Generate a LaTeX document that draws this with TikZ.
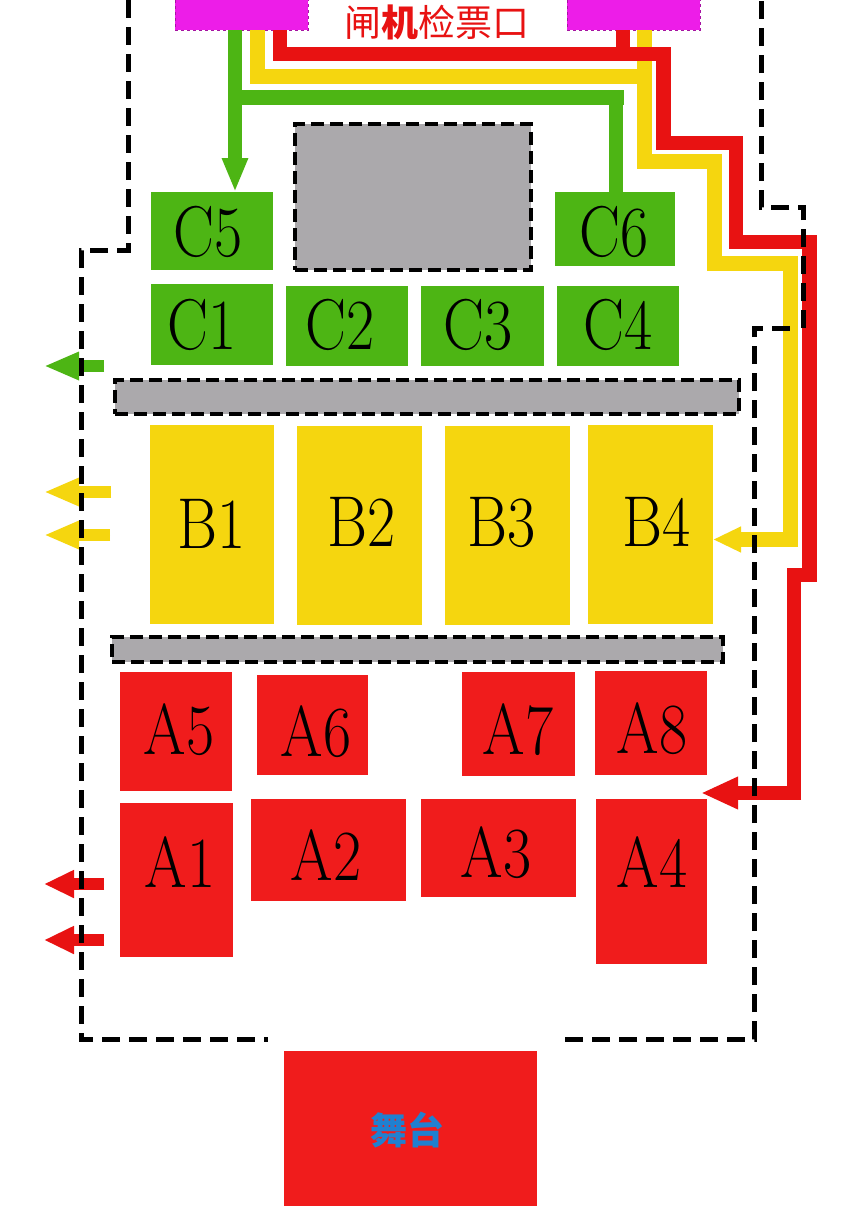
\documentclass[tikz,border=0pt]{standalone}
\usepackage{fontspec}
\usetikzlibrary{arrows.meta}
\newfontfamily\cjkfont{Noto Sans CJK SC}
\definecolor{zgreen}{HTML}{4DB514}
\definecolor{zyellow}{HTML}{F5D60F}
\definecolor{zred}{HTML}{F01C1C}
\definecolor{lred}{HTML}{E81212}
\definecolor{zgray}{HTML}{ABA9AC}
\definecolor{zmag}{HTML}{ED1DE8}
\definecolor{zblue}{HTML}{2080D0}
\tikzset{
  zone/.style={inner sep=0pt,outer sep=0pt,draw=none},
  zgreenbox/.style={zone,fill=zgreen},
  zyellowbox/.style={zone,fill=zyellow},
  zredbox/.style={zone,fill=zred},
  graybox/.style={zone,fill=zgray,draw=black,line width=4pt,dash pattern=on 13pt off 6pt},
  gatebox/.style={zone,fill=zmag,draw=zmag!70!black,line width=0.5pt,dash pattern=on 3pt off 3pt},
  seatlabel/.style={inner sep=0pt,font=\fontsize{72}{72}\selectfont,text=black},
  outline/.style={draw=black,line width=5pt,dash pattern=on 18pt off 9pt,line join=miter},
  greenpipe/.style={draw=zgreen,line width=14pt,line join=miter},
  yellowpipe/.style={draw=zyellow,line width=15pt,line join=miter},
  redpipe/.style={draw=lred,line width=14.5pt,line join=miter},
  exitarrow/.style={line width=12pt,-{Triangle[width=26pt,length=35pt]}}
}
\newcommand{\zonebox}[6]{%
  \node[#6,minimum width=#4pt-#2pt,minimum height=#5pt-#3pt] (#1) at ({(#2+#4)/2},{(#3+#5)/2}) {};}
\newcommand{\seatname}[4]{%
  \node[seatlabel] (#1t) at (#2,#3) {\scalebox{0.85}[1]{#4}};}
\begin{document}
\begin{tikzpicture}[x=1pt,y=-1pt]
\useasboundingbox[fill=white] (0,0) rectangle (865,1224);
% gates
\zonebox{g1}{175}{-5}{308}{30}{gatebox}
\zonebox{g2}{567}{-5}{700}{30}{gatebox}
\node[inner sep=0pt,text=lred,font=\cjkfont\fontsize{37}{37}\selectfont] (gatetext) at (437,22) {闸{\bfseries\color{lred}机}检票口};
% gray blocks
\zonebox{gr1}{295}{124}{531}{270}{graybox}
\zonebox{gr2}{115}{380}{739}{414}{graybox}
\zonebox{gr3}{112}{637}{723}{662}{graybox}
% C
\zonebox{c5}{151}{192}{273}{270}{zgreenbox}
\zonebox{c6}{555}{192}{675}{266}{zgreenbox}
\zonebox{c1}{151}{284}{273}{365}{zgreenbox}
\zonebox{c2}{286}{286}{408}{366}{zgreenbox}
\zonebox{c3}{421}{286}{544}{366}{zgreenbox}
\zonebox{c4}{557}{286}{679}{366}{zgreenbox}
% B
\zonebox{b1}{150}{425}{274}{624}{zyellowbox}
\zonebox{b2}{297}{426}{422}{625}{zyellowbox}
\zonebox{b3}{445}{426}{570}{625}{zyellowbox}
\zonebox{b4}{588}{425}{713}{624}{zyellowbox}
% A
\zonebox{a5}{120}{672}{232}{791}{zredbox}
\zonebox{a6}{257}{675}{368}{775}{zredbox}
\zonebox{a7}{462}{672}{575}{776}{zredbox}
\zonebox{a8}{595}{671}{707}{775}{zredbox}
\zonebox{a1}{120}{803}{233}{957}{zredbox}
\zonebox{a2}{251}{799}{406}{901}{zredbox}
\zonebox{a3}{421}{799}{576}{897}{zredbox}
\zonebox{a4}{596}{799}{707}{964}{zredbox}
% stage
\zonebox{stage}{284}{1051}{537}{1206}{zredbox}
\node[inner sep=0pt,text=zblue,font=\cjkfont\bfseries\fontsize{37}{37}\selectfont] (stagetext) at (407,1130) {舞台};
% labels
\seatname{c5}{208}{232}{C5}
\seatname{c6}{614}{232}{C6}
\seatname{c1}{202}{325}{C1}
\seatname{c2}{340}{325}{C2}
\seatname{c3}{478}{325}{C3}
\seatname{c4}{618}{325}{C4}
\seatname{b1}{212}{524}{B1}
\seatname{b2}{362}{522}{B2}
\seatname{b3}{502}{522}{B3}
\seatname{b4}{657}{522}{B4}
\seatname{a5}{179}{730}{A5}
\seatname{a6}{316}{732}{A6}
\seatname{a7}{518}{730}{A7}
\seatname{a8}{652}{729}{A8}
\seatname{a1}{180}{862}{A1}
\seatname{a2}{326}{855}{A2}
\seatname{a3}{496}{853}{A3}
\seatname{a4}{652}{862}{A4}
% free ends
\coordinate (redtip) at (701,793);
\coordinate (gexit) at (44,366);
\coordinate (yexita) at (44,492);
\coordinate (yexitb) at (44,535);
\coordinate (rexita) at (44,884);
\coordinate (rexitb) at (44,940);
\coordinate (gexits) at (104,366);
\coordinate (yexitas) at (111,492);
\coordinate (yexitbs) at (110,535);
\coordinate (rexitas) at (104,884);
\coordinate (rexitbs) at (104,940);
% green connectors
\draw[greenpipe,-{Triangle[width=24pt,length=34pt]}] (g1.south -| 235,0) -- (c5.north -| 235,0);
\draw[greenpipe,line width=15pt] (235,97.5) -- (623.5,97.5);
\draw[greenpipe] (616,97.5) -- (c6.north -| 616,0);
% yellow connectors
\draw[yellowpipe] (g1.south -| 257,0) -- (257,76) -- (644.5,76) -- (644.5,161) -- (714,161) -- (714,271);
\draw[yellowpipe,-{Triangle[width=24pt,length=28pt]}] (707,263.5) -- (790,263.5) -- (790,539.5) -- (b4.east |- 0,539.5);
\draw[yellowpipe] (g2.south -| 644.5,0) -- (644.5,76);
% red connectors
\draw[redpipe] (g1.south -| 280,0) -- (280,54) -- (663.5,54) -- (663.5,143) -- (736,143) -- (736,242) -- (809.5,242) -- (809.5,575) -- (794,575) -- (794,793) -- ++(-8,0);
\draw[redpipe,-{Triangle[width=30pt,length=37pt]}] (801,793) -- (redtip);
\draw[redpipe] (g2.south -| 623,0) -- (623,50);
% exits
\draw[exitarrow,draw=zgreen,fill=zgreen] (gexits) -- (gexit);
\draw[exitarrow,draw=zyellow,fill=zyellow] (yexitas) -- (yexita);
\draw[exitarrow,draw=zyellow,fill=zyellow] (yexitbs) -- (yexitb);
\draw[exitarrow,draw=lred,fill=lred,-{Triangle[width=26pt,length=30pt]}] (rexitas) -- (rexita);
\draw[exitarrow,draw=lred,fill=lred,-{Triangle[width=26pt,length=30pt]}] (rexitbs) -- (rexitb);
% dashed boundary
\draw[outline] (128,0) -- (128,250) -- (81,250) -- (81,1039) -- (268,1039);
\draw[outline] (565,1039) -- (754,1039) -- (754,328) -- (795,328);
\draw[outline] (803,328) -- (803,207) -- (761,207) -- (761,0);
\end{tikzpicture}
\end{document}
